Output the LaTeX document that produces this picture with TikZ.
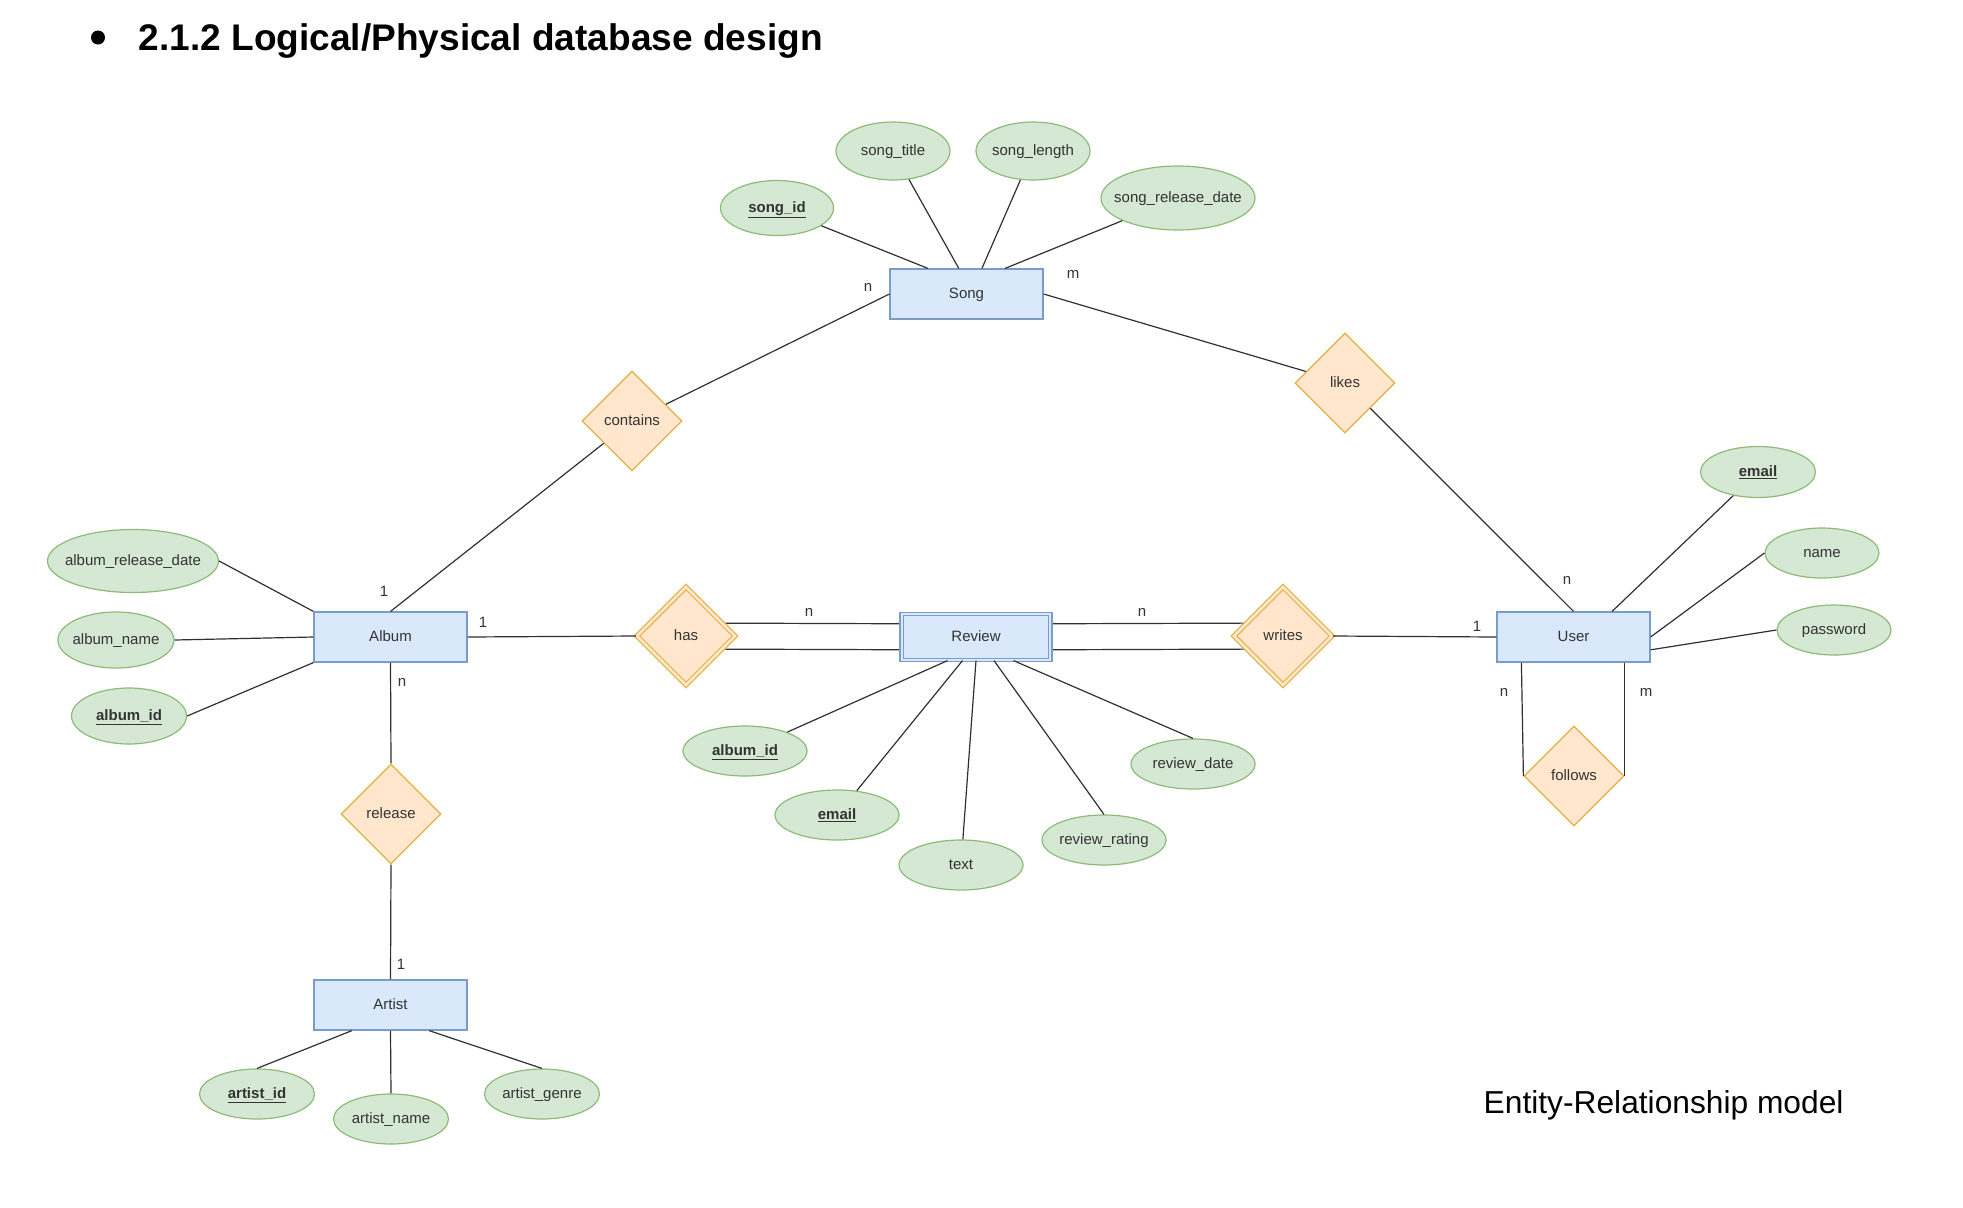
\documentclass[tikz,border=0pt]{standalone}
\usepackage{fontspec}
\setmainfont{Liberation Sans}
\usetikzlibrary{shapes.geometric,calc,backgrounds}
\definecolor{efill}{HTML}{DAE8FC}
\definecolor{estroke}{HTML}{7A9CCB}
\definecolor{afill}{HTML}{D5E8D4}
\definecolor{astroke}{HTML}{8CBB78}
\definecolor{rfill}{HTML}{FFE6CC}
\definecolor{rstroke}{HTML}{E2B145}
\definecolor{txt}{HTML}{333333}
\definecolor{lc}{HTML}{303030}
\begin{document}
\begin{tikzpicture}[x=0.75pt,y=-0.75pt,
  every node/.style={font=\fontsize{11.25pt}{13.5pt}\selectfont, text=txt},
  entity/.style={rectangle, draw=estroke, fill=efill, line width=0.9pt,
    minimum width=114.75pt, minimum height=37.5pt, inner sep=0pt,
    text height=9pt, text depth=2pt},
  entityx/.style={entity, double=efill, double distance=1.6pt,
    minimum width=111.5pt, minimum height=34.5pt},
  attr/.style 2 args={ellipse, draw=astroke, fill=afill, line width=0.9pt,
    minimum width=#1, minimum height=#2, inner xsep=-14pt, inner ysep=0pt,
    text height=9pt, text depth=2pt},
  rel/.style={diamond, aspect=1, draw=rstroke, fill=rfill, line width=0.9pt,
    minimum width=75pt, minimum height=75pt, inner sep=0pt,
    text height=9pt, text depth=2pt},
  relx/.style={rel, double=rfill, double distance=2pt,
    minimum width=74pt, minimum height=74pt},
  conn/.style={draw=lc, line width=0.9pt},
  card/.style={inner sep=0pt},
  key/.style={font=\bfseries\fontsize{11.25pt}{13.5pt}\selectfont}
]
\useasboundingbox (0,0) rectangle (1963,1207);

% title
\node[circle, fill=black, inner sep=0pt, minimum size=10.5pt] (bullet) at (98,37.5) {};
\node[anchor=base west, text=black, font=\bfseries\fontsize{27.8pt}{32pt}\selectfont] (title) at (134,50) {2.1.2 Logical/Physical database design};
\node[anchor=base west, text=black, font=\fontsize{23.8pt}{28pt}\selectfont] (caption) at (1479,1113) {Entity-Relationship model};

% entities
\node[entity] (song) at (966.5,294) {Song};
\node[entity] (album) at (390.5,637) {Album};
\node[entityx] (review) at (976,637) {Review};
\node[entity] (user) at (1573.5,637) {User};
\node[entity] (artist) at (390.5,1005) {Artist};

% relationships
\node[rel] (contains) at (632,421) {contains};
\node[rel] (likes) at (1345,383) {likes};
\node[rel] (release) at (391,814) {release};
\node[rel] (follows) at (1574,776) {follows};
\node[relx] (has) at (686,636) {has};
\node[relx] (writes) at (1283,636) {writes};

% song attributes
\node[attr={84.75pt}{41.25pt}, key] (songid) at (777,208) {\underline{song\_id}};
\node[attr={85.5pt}{43.5pt}] (songtitle) at (893,151) {song\_title};
\node[attr={85.5pt}{43.5pt}] (songlength) at (1033,151) {song\_length};
\node[attr={115.5pt}{48pt}] (songrel) at (1178,198) {song\_release\_date};

% album attributes
\node[attr={128.25pt}{47.25pt}] (albrel) at (133,561) {album\_release\_date};
\node[attr={87pt}{42pt}] (albname) at (116,640) {album\_name};
\node[attr={86.25pt}{42pt}, key] (albid) at (129,716) {\underline{album\_id}};

% user attributes
\node[attr={86.25pt}{38.25pt}, key] (uemail) at (1758,472) {\underline{email}};
\node[attr={85.5pt}{37.5pt}] (uname) at (1822,553) {name};
\node[attr={85.5pt}{37.5pt}] (upass) at (1834,630) {password};

% review attributes
\node[attr={93pt}{37.5pt}, key] (ralbid) at (745,751) {\underline{album\_id}};
\node[attr={93pt}{37.5pt}, key] (remail) at (837,815) {\underline{email}};
\node[attr={93pt}{37.5pt}] (rtext) at (961,865) {text};
\node[attr={93pt}{37.5pt}] (rrating) at (1104,840) {review\_rating};
\node[attr={93pt}{37.5pt}] (rdate) at (1193,764) {review\_date};

% artist attributes
\node[attr={86.25pt}{37.5pt}, key] (artid) at (257,1094) {\underline{artist\_id}};
\node[attr={86.25pt}{37.5pt}] (artname) at (391,1119) {artist\_name};
\node[attr={86.25pt}{37.5pt}] (artgenre) at (542,1094) {artist\_genre};

% connectors: song
\draw[conn] (songid) -- ($(song.north west)!0.25!(song.north east)$);
\draw[conn] (songtitle) -- ($(song.north west)!0.45!(song.north east)$);
\draw[conn] (songlength) -- ($(song.north west)!0.6!(song.north east)$);
\draw[conn] (songrel) -- ($(song.north west)!0.75!(song.north east)$);
\draw[conn] (song.west) -- (contains);
\draw[conn] (song.east) -- (likes);
\draw[conn] (likes) -- (user.north);
\draw[conn] (contains) -- (album.north);

% album
\draw[conn] (albrel.east) -- (album.north west);
\draw[conn] (albname.east) -- (album.west);
\draw[conn] (albid.east) -- (album.south west);
\draw[conn] (album.east) -- (has.west);
\draw[conn] (album.south) -- (release.north);
\draw[conn] (release.south) -- (artist.north);

% artist
\draw[conn] ($(artist.south west)!0.25!(artist.south east)$) -- (artid.north);
\draw[conn] (artist.south) -- (artname.north);
\draw[conn] ($(artist.south west)!0.75!(artist.south east)$) -- (artgenre.north);

% review
\draw[conn] ($(review.south west)!0.31!(review.south east)$) -- (ralbid);
\draw[conn] ($(review.south west)!0.41!(review.south east)$) -- (remail);
\draw[conn] (review.south) -- (rtext);
\draw[conn] ($(review.south west)!0.62!(review.south east)$) -- (rrating.north);
\draw[conn] ($(review.south west)!0.75!(review.south east)$) -- (rdate.north);
\begin{scope}[on background layer]
\draw[conn] ([yshift=9.75pt]has.center) -- ([yshift=9.75pt]review.center);
\draw[conn] ([yshift=-9.75pt]has.center) -- ([yshift=-9.75pt]review.center);
\draw[conn] ([yshift=9.75pt]review.center) -- ([yshift=9.75pt]writes.center);
\draw[conn] ([yshift=-9.75pt]review.center) -- ([yshift=-9.75pt]writes.center);
\end{scope}
\draw[conn] (writes.east) -- (user.west);

% user
\draw[conn] ($(user.north west)!0.75!(user.north east)$) -- (uemail);
\draw[conn] (user.east) -- (uname.west);
\draw[conn] ($(user.north east)!0.75!(user.south east)$) -- (upass.west);
\draw[conn] ([xshift=18.75pt]user.south west) -- (follows.west);
\draw[conn] ([xshift=-19.5pt]user.south east) -- (follows.east);

% cardinalities
\node[card] (c1) at (868,287) {n};
\node[card] (c2) at (1073,274) {m};
\node[card] (c3) at (384,591) {1};
\node[card] (c4) at (483,622) {1};
\node[card] (c5) at (402,682) {n};
\node[card] (c6) at (401,964) {1};
\node[card] (c7) at (809,612) {n};
\node[card] (c8) at (1142,612) {n};
\node[card] (c9) at (1477,626) {1};
\node[card] (c10) at (1567,580) {n};
\node[card] (c11) at (1504,692) {n};
\node[card] (c12) at (1646,692) {m};
\end{tikzpicture}
\end{document}
